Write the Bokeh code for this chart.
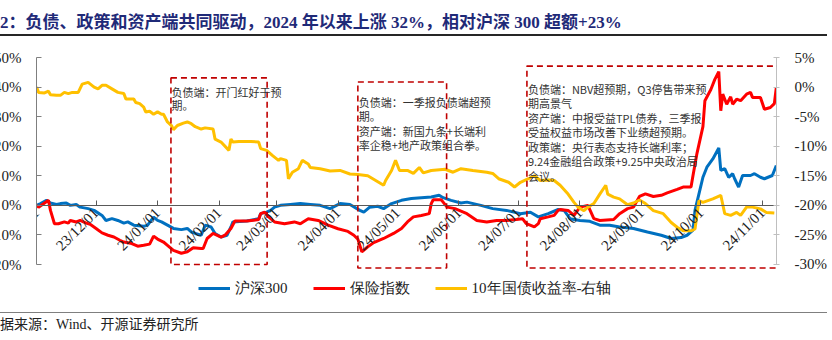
import pandas as pd
from math import pi
from bokeh.plotting import figure
from bokeh.layouts import column
from bokeh.models import (Range1d, LinearAxis, FixedTicker, PrintfTickFormatter, MonthsTicker,
                          DatetimeTickFormatter, BoxAnnotation, Label, Legend, LegendItem, Div)
from bokeh.embed import file_html
from bokeh.resources import INLINE

# ---------------- data ----------------
TITLE = "图2：负债、政策和资产端共同驱动，2024 年以来上涨 32%，相对沪深 300 超额+23%"
SOURCE = "数据来源：Wind、开源证券研究所"
SERIES_NAMES = ["沪深300", "保险指数", "10年国债收益率-右轴"]

hs300_dates = [
    "2023-11-01", "2023-11-03", "2023-11-06", "2023-11-08", "2023-11-11", "2023-11-13", "2023-11-16",
    "2023-11-18", "2023-11-21", "2023-11-23", "2023-11-27", "2023-11-30",
    "2023-12-04", "2023-12-06", "2023-12-09", "2023-12-12", "2023-12-15", "2023-12-17", "2023-12-20",
    "2023-12-25", "2023-12-27", "2023-12-30",
    "2024-01-01", "2024-01-03", "2024-01-06", "2024-01-09", "2024-01-13", "2024-01-16", "2024-01-18",
    "2024-01-20", "2024-01-23", "2024-01-25", "2024-01-28", "2024-01-30",
    "2024-02-02", "2024-02-05", "2024-02-07", "2024-02-08", "2024-02-15", "2024-02-21", "2024-02-22",
    "2024-02-25", "2024-02-27", "2024-02-29",
    "2024-03-03", "2024-03-08", "2024-03-13", "2024-03-18", "2024-03-23", "2024-03-28",
    "2024-04-02", "2024-04-07", "2024-04-12", "2024-04-14", "2024-04-17", "2024-04-21", "2024-04-24", "2024-04-28",
    "2024-05-03", "2024-05-08", "2024-05-13", "2024-05-18", "2024-05-22", "2024-05-24", "2024-05-28",
    "2024-06-02", "2024-06-05", "2024-06-12", "2024-06-18", "2024-06-25",
    "2024-07-02", "2024-07-07", "2024-07-11", "2024-07-16", "2024-07-21", "2024-07-24", "2024-07-27",
    "2024-08-01", "2024-08-06", "2024-08-11", "2024-08-16", "2024-08-21", "2024-08-28",
    "2024-09-04", "2024-09-11", "2024-09-16", "2024-09-21", "2024-09-24", "2024-09-27", "2024-09-28", "2024-09-30",
    "2024-10-02", "2024-10-04", "2024-10-07", "2024-10-10", "2024-10-11", "2024-10-13", "2024-10-15",
    "2024-10-17", "2024-10-18", "2024-10-20", "2024-10-22", "2024-10-26", "2024-10-28", "2024-10-31",
    "2024-11-02", "2024-11-06", "2024-11-08",
]
hs300_vals = [
    0.0, 0.6, 1.7, 0.8, 0.3, 0.6, 0.8, 0.0, 0.3, -0.6, -1.1, -1.7,
    -3.4, -5.1, -4.5, -5.1, -6.0, -5.6, -6.7, -7.1, -6.7, -4.0,
    -5.1, -5.6, -6.7, -7.8, -8.2, -7.8, -9.0, -9.5, -10.1, -6.7, -7.3, -9.5,
    -10.7, -10.1, -7.3, -5.6, -5.3, -4.5, -2.8, -2.3, -1.7, -0.6,
    0.0, 0.3, 0.6, 0.3, 0.0, -1.1,
    0.6, 0.3, -1.7, -2.3, -0.6, -0.3, -1.1, 0.6,
    1.7, 2.3, 2.6, 2.8, 3.4, 2.6, 1.7,
    0.8, 1.1, 0.0, -1.1, -1.7,
    -2.8, -2.3, -3.9, -2.8, -1.4, -1.7, -4.5,
    -5.1, -5.4, -6.7, -6.7, -7.3, -7.8,
    -9.0, -10.1, -11.2, -10.9, -10.1, -8.4, -1.7, 3.9,
    9.5, 12.9, 15.7, 19.4, 11.8, 12.4, 9.5, 10.7, 9.0, 6.2, 10.1, 10.1, 10.7, 9.5,
    9.0, 10.1, 13.5,
]

ins_dates = [
    "2023-11-01", "2023-11-02", "2023-11-07", "2023-11-08", "2023-11-10", "2023-11-12", "2023-11-15",
    "2023-11-17", "2023-11-18", "2023-11-21", "2023-11-23", "2023-11-26", "2023-11-28",
    "2023-12-01", "2023-12-04", "2023-12-07", "2023-12-10", "2023-12-13", "2023-12-15", "2023-12-19",
    "2023-12-22", "2023-12-25", "2023-12-28", "2023-12-30",
    "2024-01-01", "2024-01-04", "2024-01-06", "2024-01-09", "2024-01-13", "2024-01-16", "2024-01-19",
    "2024-01-23", "2024-01-24", "2024-01-26", "2024-01-29",
    "2024-02-02", "2024-02-04", "2024-02-07", "2024-02-09", "2024-02-15", "2024-02-21", "2024-02-22",
    "2024-02-24", "2024-02-26", "2024-02-29",
    "2024-03-05", "2024-03-10", "2024-03-13", "2024-03-17", "2024-03-22", "2024-03-27",
    "2024-04-01", "2024-04-06", "2024-04-09", "2024-04-11", "2024-04-13", "2024-04-16", "2024-04-19",
    "2024-04-24", "2024-04-29",
    "2024-05-03", "2024-05-06", "2024-05-09", "2024-05-13", "2024-05-17", "2024-05-18", "2024-05-19",
    "2024-05-23", "2024-05-24", "2024-05-26", "2024-05-30",
    "2024-06-05", "2024-06-10", "2024-06-15", "2024-06-20", "2024-06-25", "2024-06-30",
    "2024-07-03", "2024-07-05", "2024-07-09", "2024-07-11", "2024-07-12", "2024-07-16", "2024-07-19",
    "2024-07-21", "2024-07-22", "2024-07-26", "2024-07-29",
    "2024-08-01", "2024-08-05", "2024-08-08", "2024-08-11", "2024-08-18", "2024-08-21", "2024-08-25",
    "2024-08-28", "2024-08-31",
    "2024-09-03", "2024-09-07", "2024-09-11", "2024-09-14", "2024-09-19", "2024-09-22", "2024-09-26",
    "2024-09-27", "2024-09-29",
    "2024-10-02", "2024-10-03", "2024-10-06", "2024-10-08", "2024-10-10", "2024-10-11", "2024-10-12",
    "2024-10-14", "2024-10-16", "2024-10-17", "2024-10-19", "2024-10-21", "2024-10-24", "2024-10-26",
    "2024-10-27", "2024-10-31",
    "2024-11-02", "2024-11-05", "2024-11-07", "2024-11-08",
]
ins_vals = [
    0.0, -0.6, 1.7, -1.7, -6.2, -6.2, -5.6, -6.0, -5.1, -5.6, -5.1, -6.0, -6.4,
    -7.8, -9.3, -10.1, -10.7, -11.8, -12.4, -12.9, -13.8, -13.5, -13.1, -10.4,
    -11.4, -12.4, -13.5, -15.2, -16.2, -15.7, -14.3, -14.6, -14.6, -11.2, -9.5,
    -10.7, -10.1, -7.8, -5.3, -5.3, -4.8, -2.8, -2.3, -3.9, -5.6,
    -6.2, -5.6, -6.2, -4.5, -5.1, -6.7,
    -7.9, -8.8, -10.1, -11.4, -15.7, -14.0, -12.6, -11.2, -9.5,
    -7.8, -5.6, -3.9, -3.4, -2.8, 0.6, 1.9, 1.9, 1.1, -0.6, -1.1,
    -2.8, -5.1, -5.6, -5.1, -5.1, -4.8,
    -4.5, -6.2, -7.3, -6.2, -4.5, -3.9, -3.4, -1.7, -1.4, -1.7, -3.4,
    -0.6, 0.0, -4.5, -5.1, -4.8, -2.8, -1.1, -0.6, 3.0,
    3.9, 3.0, 3.4, 4.2, 5.4, 6.2, 6.2, 10.1, 17.6,
    26.6, 35.4, 39.2, 42.6, 45.2, 32.0, 37.6, 34.2, 36.7, 34.2, 35.9, 35.4, 37.6, 38.2, 36.5, 36.5,
    32.5, 33.1, 34.4, 39.8,
]

yld_dates = [
    "2023-11-01", "2023-11-02", "2023-11-05", "2023-11-07", "2023-11-08", "2023-11-11", "2023-11-13",
    "2023-11-15", "2023-11-17", "2023-11-19", "2023-11-22", "2023-11-24", "2023-11-27", "2023-11-30",
    "2023-12-02", "2023-12-04", "2023-12-06", "2023-12-09", "2023-12-12", "2023-12-15", "2023-12-16",
    "2023-12-20", "2023-12-21", "2023-12-23", "2023-12-25", "2023-12-26", "2023-12-28", "2023-12-30",
    "2024-01-01", "2024-01-03", "2024-01-04", "2024-01-06", "2024-01-08", "2024-01-09", "2024-01-11",
    "2024-01-14", "2024-01-16", "2024-01-18", "2024-01-20", "2024-01-23", "2024-01-25", "2024-01-29", "2024-01-30",
    "2024-02-02", "2024-02-06", "2024-02-07", "2024-02-08", "2024-02-11", "2024-02-17", "2024-02-21",
    "2024-02-22", "2024-02-25", "2024-02-28",
    "2024-03-02", "2024-03-03", "2024-03-06", "2024-03-07", "2024-03-09", "2024-03-12", "2024-03-14",
    "2024-03-17", "2024-03-18", "2024-03-23", "2024-03-28",
    "2024-04-02", "2024-04-07", "2024-04-11", "2024-04-16", "2024-04-20", "2024-04-24", "2024-04-25",
    "2024-04-28", "2024-04-30",
    "2024-05-02", "2024-05-06", "2024-05-09", "2024-05-12", "2024-05-14", "2024-05-18", "2024-05-25", "2024-05-29",
    "2024-06-02", "2024-06-08", "2024-06-15", "2024-06-18", "2024-06-21", "2024-06-26", "2024-06-29",
    "2024-07-02", "2024-07-06", "2024-07-09", "2024-07-12", "2024-07-16", "2024-07-19", "2024-07-22",
    "2024-07-26", "2024-07-29", "2024-07-31",
    "2024-08-03", "2024-08-05", "2024-08-08", "2024-08-11", "2024-08-14", "2024-08-15", "2024-08-18",
    "2024-08-21", "2024-08-25", "2024-08-28", "2024-08-31",
    "2024-09-03", "2024-09-07", "2024-09-12", "2024-09-16", "2024-09-19", "2024-09-22", "2024-09-26",
    "2024-09-28", "2024-09-30",
    "2024-10-02", "2024-10-07", "2024-10-11", "2024-10-13", "2024-10-16", "2024-10-19", "2024-10-21",
    "2024-10-24", "2024-10-27", "2024-10-31",
    "2024-11-03", "2024-11-07",
]
yld_vals = [
    0.0, -0.9, -1.0, -0.7, -1.3, -1.4, -1.4, -0.9, -1.1, -0.9, -0.9, 0.5, 0.8, 0.0,
    -0.3, 0.3, 0.3, -0.3, -0.9, -1.1, -2.0, -2.0, -2.6, -2.8, -3.4, -4.2, -4.1, -4.6,
    -4.2, -4.6, -4.6, -5.9, -6.5, -7.2, -6.5, -6.1, -5.9, -6.2, -6.7, -7.1, -6.9, -7.1, -8.8,
    -9.3, -10.7, -8.8, -9.3, -9.2, -9.2, -9.3, -10.4, -10.7, -11.6,
    -12.4, -12.1, -12.4, -15.5, -14.4, -13.8, -12.4, -13.0, -13.6, -13.8, -14.2,
    -14.1, -14.7, -14.8, -15.0, -15.8, -16.6, -15.8, -14.1, -12.4,
    -14.1, -14.1, -14.6, -13.6, -14.5, -14.1, -13.9, -14.4,
    -13.8, -14.1, -14.4, -14.6, -15.5, -16.1, -16.9,
    -16.1, -15.5, -15.0, -15.8, -15.7, -15.8, -16.6, -18.1, -19.5, -20.3,
    -20.9, -20.3, -19.7, -18.1, -16.6, -18.1, -18.6, -18.9, -19.9, -19.6, -19.1,
    -19.7, -20.9, -21.4, -22.9, -23.7, -24.3, -24.3, -24.0, -19.2,
    -19.5, -18.9, -18.3, -21.4, -21.7, -21.2, -21.7, -20.3, -20.3, -20.6,
    -21.2, -21.3,
]

left_ticks = [-20, -10, 0, 10, 20, 30, 40, 50]
right_ticks = [-30, -25, -20, -15, -10, -5, 0, 5]

# annotation boxes: (left date, right date, top %, bottom %) on the left axis
box_spans = [
    ("2024-01-07 18:00", "2024-02-25 06:00", 43.1, -20.0),
    ("2024-04-11 00:00", "2024-05-25 18:00", 41.7, -21.2),
    ("2024-07-05 06:00", "2024-11-10 00:00", 47.1, -21.2),
]
box_texts = [
    ["负债端：开门红好于预", "期。"],
    ["负债端：一季报负债端超预", "期。", "资产端：新国九条+长端利", "率企稳+地产政策组合拳。"],
    ["负债端：NBV超预期，Q3停售带来预", "期高景气", "资产端：中报受益TPL债券，三季报",
     "受益权益市场改善下业绩超预期。", "政策端：央行表态支持长端利率；",
     "9.24金融组合政策+9.25中央政治局", "会议。"],
]
box_text_anchor = [("2024-01-08 00:00", 38.4, 4.5),
                   ("2024-04-11 12:00", 35.0, 4.9),
                   ("2024-07-05 18:00", 39.4, 4.9)]

# ---------------- styling ----------------
SERIF = "Liberation Serif"
SANS_CJK = "Noto Sans CJK SC"
BLUE, RED, YELLOW = "#0070C0", "#FF0000", "#FFC000"
BOX_RED = "#C00000"
W = 848          # the column is shifted 16 px left, like the cropped reference
LW = 3


def ms(s):
    return pd.Timestamp(s).value / 1e6


# ---------------- header: title + rule (HTML) ----------------
HEAD_H = 40
head = Div(width=W, height=HEAD_H, margin=0, text=(
    "<div style=\"box-sizing:content-box;margin:0 0 0 -1px;padding:12px 0 0 0;height:22px;width:844px;"
    "border-bottom:2px solid #262626;font-family:'Liberation Serif','Noto Sans CJK SC',serif;"
    "font-weight:bold;font-size:17px;line-height:22px;color:#1F2A78;white-space:nowrap;\">"
    + TITLE + "</div>"))

# ---------------- main chart ----------------
# frame: 57..300 px on the page; the y axes only span their tick bounds (57..264),
# the strip below holds the legend.
MAIN_H = 266
x_start = pd.Timestamp("2023-10-31 23:00")
x_end = pd.Timestamp("2023-11-01") + pd.Timedelta(days=373.1)

p = figure(width=W, height=MAIN_H, x_axis_type="datetime",
           x_range=Range1d(x_start, x_end), y_range=Range1d(-32.17, 50),
           output_backend="svg", toolbar_location=None,
           min_border_left=52, min_border_right=56, min_border_top=17, min_border_bottom=6,
           margin=0)
p.outline_line_color = None
p.xgrid.visible = False
p.ygrid.visible = False
p.extra_y_ranges = {"right": Range1d(-36.09, 5)}

xa = p.xaxis[0]
xa.fixed_location = 0
xa.ticker = MonthsTicker(months=list(range(1, 13)))
fmt = "%y/%m/%d"
xa.formatter = DatetimeTickFormatter(days=fmt, months=fmt, years=fmt, hours=fmt, minutes=fmt,
                                     seconds=fmt, milliseconds=fmt, microseconds=fmt)
xa.major_label_orientation = pi / 4
xa.major_label_text_font = SERIF
xa.major_label_text_font_size = "15px"
xa.major_label_text_color = "#222222"
xa.major_label_standoff = 5
xa.axis_line_color = "#595959"
xa.axis_line_width = 1.2
xa.major_tick_in = 5
xa.major_tick_out = 0
xa.major_tick_line_color = "#595959"
xa.minor_tick_line_color = None

ya = p.yaxis[0]
ya.ticker = FixedTicker(ticks=left_ticks)
ya.bounds = (left_ticks[0], left_ticks[-1])
ya.formatter = PrintfTickFormatter(format="%d%%")
ya.major_label_text_font = SERIF
ya.major_label_text_font_size = "15px"
ya.major_label_text_color = "#222222"
ya.major_label_standoff = 15
ya.axis_line_color = "#7f7f7f"
ya.major_tick_in = 5
ya.major_tick_out = 0
ya.major_tick_line_color = "#7f7f7f"
ya.minor_tick_line_color = None

ra = LinearAxis(y_range_name="right", ticker=FixedTicker(ticks=right_ticks),
                bounds=(right_ticks[0], right_ticks[-1]),
                formatter=PrintfTickFormatter(format="%d%%"))
ra.major_label_text_font = SERIF
ra.major_label_text_font_size = "15px"
ra.major_label_text_color = "#222222"
ra.major_label_standoff = 15
ra.axis_line_color = "#bfbfbf"
ra.major_tick_in = 3
ra.major_tick_out = 3
ra.major_tick_line_color = "#bfbfbf"
ra.minor_tick_line_color = None
p.add_layout(ra, "right")

r_hs = p.line(pd.to_datetime(hs300_dates), hs300_vals, color=BLUE, line_width=LW)
r_in = p.line(pd.to_datetime(ins_dates), ins_vals, color=RED, line_width=LW)
r_yl = p.line(pd.to_datetime(yld_dates), yld_vals, color=YELLOW, line_width=LW, y_range_name="right")

for (l, r, t, b) in box_spans:
    p.add_layout(BoxAnnotation(left=ms(l), right=ms(r), top=t, bottom=b,
                               fill_color=None, fill_alpha=0, line_color=BOX_RED, line_alpha=1,
                               line_width=1.6, line_dash="6 4"))
for lines, (xd, y0, step) in zip(box_texts, box_text_anchor):
    for i, txt in enumerate(lines):
        p.add_layout(Label(x=ms(xd), y=y0 - i * step, text=txt, text_font=SANS_CJK,
                           text_font_size="11px", text_color="#333333",
                           text_baseline="middle", text_align="left"))

legend = Legend(items=[LegendItem(label=n, renderers=[r])
                       for n, r in zip(SERIES_NAMES, (r_hs, r_in, r_yl))],
                location=(162, 2), orientation="horizontal", border_line_color=None,
                background_fill_alpha=0, label_text_font=SERIF, label_text_font_size="15px",
                label_text_color="#222222", glyph_width=32, label_standoff=5, spacing=25,
                padding=0, margin=0)
p.add_layout(legend, "center")

# ---------------- footer: rule + source (HTML) ----------------
FOOT_H = 340 - HEAD_H - MAIN_H
foot = Div(width=W, height=FOOT_H, margin=0, text=(
    "<div style=\"box-sizing:content-box;margin:6px 0 0 0;padding:4px 0 0 2px;width:841px;"
    "border-top:1.5px solid #7f7f7f;font-family:'Liberation Serif','Noto Sans CJK SC',serif;"
    "font-size:14px;line-height:16px;color:#222222;white-space:nowrap;\">"
    + SOURCE + "</div>"))

layout = column(head, p, foot, spacing=0, margin=(0, 0, 0, -16))
open("out.html", "w").write(file_html(layout, INLINE, title="chart"))
